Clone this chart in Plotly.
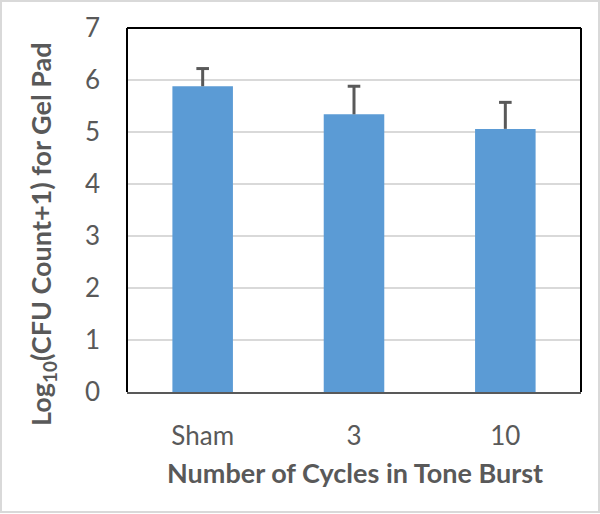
import plotly.graph_objects as go

categories = ["Sham", "3", "10"]
means = [5.88, 5.34, 5.06]
err_upper = [0.34, 0.54, 0.51]
y_ticks = [0, 1, 2, 3, 4, 5, 6, 7]

FONT = "Lato"
TXT = "#595959"
ERR = "#595959"

fig = go.Figure()
fig.add_trace(go.Bar(
    x=categories, y=means,
    marker=dict(color="#5B9BD5", line=dict(width=0)),
    error_y=dict(type="data", array=err_upper, arrayminus=[0, 0, 0], symmetric=False,
                 color=ERR, thickness=3, width=0),
))
# caps at top of error bars only
fig.add_trace(go.Scatter(
    x=categories, y=[m + e for m, e in zip(means, err_upper)],
    mode="markers",
    marker=dict(symbol="line-ew", size=9, line=dict(color=ERR, width=3)),
    hoverinfo="skip",
))

L, R, T, B = 127, 19, 28, 122
W, H = 600, 514
pw, ph = W - L - R, H - T - B

def px(x):
    return (x - L) / pw

def py(y):
    return (H - B - y) / ph

fig.update_layout(
    width=W, height=H,
    margin=dict(l=L, r=R, t=T, b=B),
    paper_bgcolor="white", plot_bgcolor="white",
    bargap=0.6,
    showlegend=False,
    font=dict(family=FONT, color=TXT, size=26),
    xaxis=dict(showgrid=False, showline=True, linecolor="#595959", linewidth=2,
               ticks="", tickfont=dict(size=26, color=TXT), ticklabelstandoff=20),
    yaxis=dict(range=[0, 7], tickvals=y_ticks, showgrid=True, gridcolor="#D9D9D9",
               gridwidth=1.5, zeroline=False, showline=False, ticks="",
               tickfont=dict(size=26, color=TXT), ticklabelstandoff=26),
    shapes=[
        dict(type="line", xref="paper", yref="paper", x0=0, x1=0, y0=0, y1=1,
             line=dict(color="black", width=2)),
        dict(type="line", xref="paper", yref="paper", x0=0, x1=1, y0=1, y1=1,
             line=dict(color="black", width=2)),
        dict(type="line", xref="paper", yref="paper", x0=1, x1=1, y0=0, y1=1,
             line=dict(color="black", width=2)),
        dict(type="rect", xref="paper", yref="paper", x0=px(1), x1=px(599),
             y0=py(512), y1=py(1), line=dict(color="#D9D9D9", width=2)),
    ],
    annotations=[
        dict(text="<b>Log<sub>10</sub>(CFU Count+1) for Gel Pad</b>", textangle=-90,
             xref="paper", yref="paper", x=px(42), y=py(234), showarrow=False,
             xanchor="center", yanchor="middle", font=dict(size=27, color=TXT)),
        dict(text="<b>Number of Cycles in Tone Burst</b>",
             xref="paper", yref="paper", x=px(354.5), y=py(472), showarrow=False,
             xanchor="center", yanchor="middle", font=dict(size=27, color=TXT)),
    ],
)

fig.write_html("out.html", config={"displayModeBar": False},
               post_script="document.body.style.margin='0';document.body.style.overflow='hidden';")
